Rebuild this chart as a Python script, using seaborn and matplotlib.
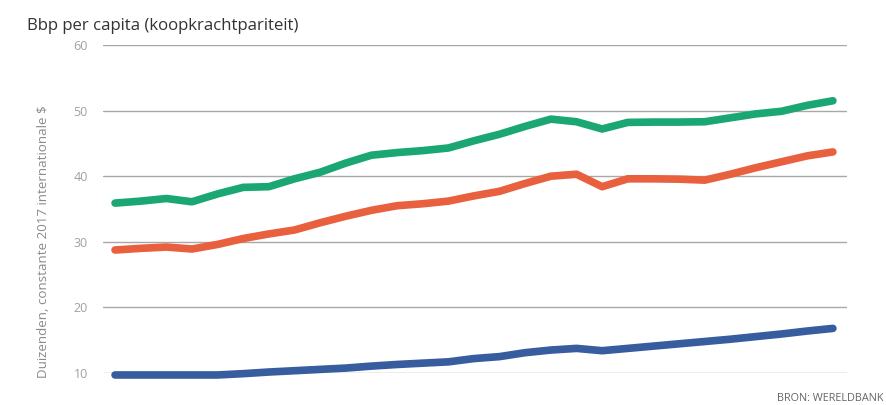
import numpy as np
import pandas as pd
import matplotlib
matplotlib.use("Agg")
import matplotlib.pyplot as plt
import seaborn as sns

# GDP per capita (PPP), thousands of constant 2017 international dollars
years = list(range(1990, 2019))
green_series = [35.9, 36.2, 36.6, 36.1, 37.3, 38.3, 38.4, 39.6, 40.6, 42.0,
                43.2, 43.6, 43.9, 44.3, 45.4, 46.4, 47.6, 48.7, 48.3, 47.2,
                48.2, 48.25, 48.25, 48.3, 48.9, 49.5, 49.9, 50.8, 51.5]
orange_series = [28.75, 29.0, 29.2, 28.9, 29.6, 30.5, 31.2, 31.8, 32.9, 33.9,
                 34.8, 35.5, 35.8, 36.2, 37.0, 37.7, 38.9, 40.0, 40.3, 38.4,
                 39.6, 39.6, 39.55, 39.4, 40.3, 41.3, 42.2, 43.1, 43.7]
blue_series = [9.7, 9.7, 9.7, 9.7, 9.7, 9.9, 10.15, 10.35, 10.55, 10.75,
               11.05, 11.3, 11.5, 11.7, 12.2, 12.5, 13.1, 13.5, 13.75, 13.4,
               13.75, 14.1, 14.45, 14.8, 15.15, 15.55, 15.95, 16.4, 16.8]
y_ticks = [10, 20, 30, 40, 50, 60]

colors = {"green": "#1aa774", "orange": "#e9603e", "blue": "#375d9e"}

df = pd.concat([
    pd.DataFrame({"jaar": years, "bbp": green_series, "reeks": "green"}),
    pd.DataFrame({"jaar": years, "bbp": orange_series, "reeks": "orange"}),
    pd.DataFrame({"jaar": years, "bbp": blue_series, "reeks": "blue"}),
])

sns.set_theme(style="white")
plt.rcParams["font.family"] = ["Open Sans", "DejaVu Sans"]

fig = plt.figure(figsize=(8.87, 4.05), dpi=100)
ax = fig.add_axes([103 / 887, 32 / 405, 744 / 887, 328 / 405])

sns.lineplot(data=df, x="jaar", y="bbp", hue="reeks", palette=colors,
             linewidth=5.5, legend=False, ax=ax, zorder=3)
for line in ax.lines:
    line.set_solid_capstyle("round")
    line.set_solid_joinstyle("round")
    line.set_clip_on(False)

ax.set_xlim(years[0] - 0.47, years[-1] + 0.55)
ax.set_ylim(10, 60)
ax.set_yticks(y_ticks)
ax.set_yticklabels([str(t) for t in y_ticks], color="#a0a0a0", fontsize=9)
ax.tick_params(axis="y", length=0, pad=11)
ax.set_xticks([])
ax.yaxis.grid(True, color="#a8a8a8", linewidth=1.0)
ax.set_axisbelow(True)
for s in ax.spines.values():
    s.set_visible(False)
ax.set_xlabel("")
ax.set_ylabel("")

fig.text(27 / 887, 1 - 30 / 405, "Bbp per capita (koopkrachtpariteit)",
         fontsize=12.1, color="#333333", ha="left", va="baseline")
fig.text(44 / 887, 1 - 378 / 405, "Duizenden, constante 2017 internationale $",
         fontsize=9.6, color="#8a8a8a", rotation=90, ha="center", va="bottom")
fig.text(884 / 887, 1 - 401 / 405, "BRON: WERELDBANK",
         fontsize=7.8, color="#666666", ha="right", va="baseline")

fig.savefig("out.png", dpi=100)
